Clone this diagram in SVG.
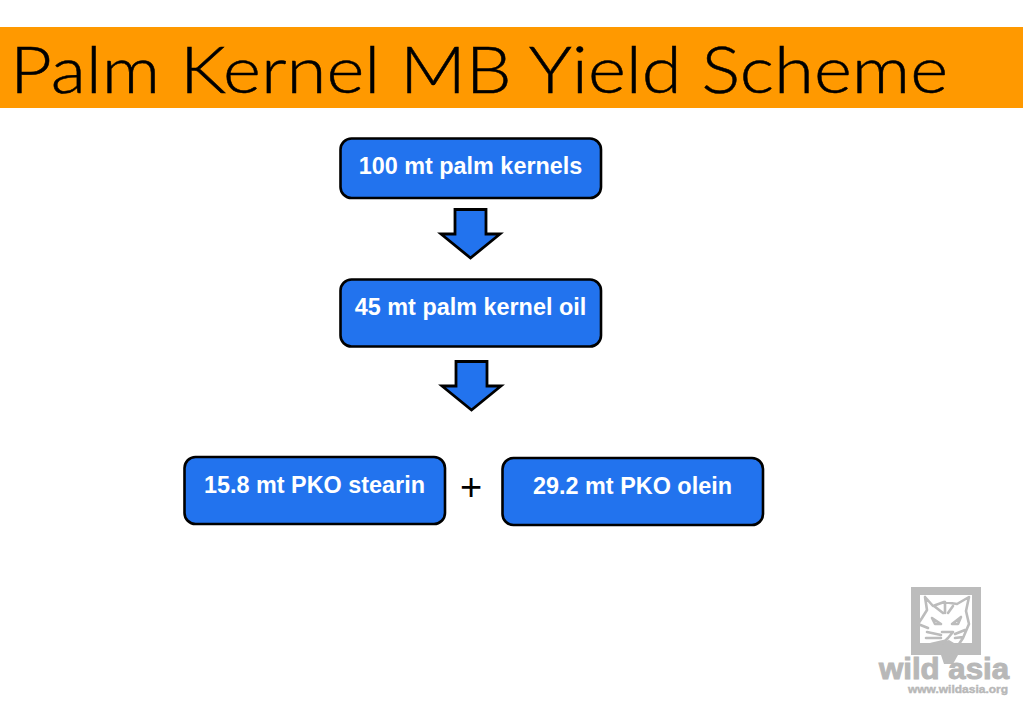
<svg xmlns="http://www.w3.org/2000/svg" width="1023" height="708" viewBox="0 0 1023 708">
<style>
.box{fill:#2273ee;stroke:#000;stroke-width:2.6}
.arr{fill:#2273ee;stroke:#000;stroke-width:2.8;stroke-linejoin:miter}
.lbl{font-family:"Liberation Sans",Arial,sans-serif;font-weight:700;font-size:23.400px;fill:#fff;text-anchor:middle}
.cat{fill:none;stroke:#bcbcbc;stroke-width:2.600;stroke-linecap:round;stroke-linejoin:round}
.logo{font-family:"Liberation Sans",Arial,sans-serif;font-weight:700;fill:#b8b8b8}
</style>
<rect width="1023" height="708" fill="#fff"/>
<g id="title">
<rect x="0" y="27" width="1023" height="81" fill="#ff9900"/>
<text x="10" y="93" font-family="Lato,'Noto Sans',sans-serif" font-weight="300" font-size="65" fill="#000" stroke="#000" stroke-width=".5" textLength="938" lengthAdjust="spacingAndGlyphs">Palm Kernel MB Yield Scheme</text>
</g>
<g id="connectors">
<path class="arr" d="M455 209.500H486V234H500L470.500 258L441 234H455Z"/>
<path class="arr" d="M456 361.500H487V386H501L471.500 410L442 386H456Z"/>
</g>
<g id="node-kernels">
<rect class="box" x="340.500" y="138.500" width="260.500" height="59.500" rx="11"/>
<text class="lbl" x="470.500" y="174">100 mt palm kernels</text>
</g>
<g id="node-oil">
<rect class="box" x="340.500" y="279.500" width="260.500" height="67" rx="11"/>
<text class="lbl" x="470.500" y="315">45 mt palm kernel oil</text>
</g>
<g id="node-stearin">
<rect class="box" x="184.500" y="457" width="260.500" height="67" rx="11"/>
<text class="lbl" x="314.500" y="493">15.8 mt PKO stearin</text>
</g>
<g id="plus">
<text x="471" y="500" font-family="'Liberation Sans',Arial,sans-serif" font-size="38" fill="#000" text-anchor="middle">+</text>
</g>
<g id="node-olein">
<rect class="box" x="502.500" y="458" width="260.500" height="67" rx="11"/>
<text class="lbl" x="632.500" y="494">29.2 mt PKO olein</text>
</g>
<g id="logo">
<path fill="#bcbcbc" fill-rule="evenodd" d="M911 587H981V655H958L953 664H944L941 655H911ZM920 595V643H937L949 640L954 643H972V595Z"/>
<path class="cat" d="M925 597L933 606L944 602L957 604L969 597L966 611L969 624L963 638L955 650L948 662M925 597L927 610L922 618L918 624L928 628M934 606L943 613M953 606L948 613M945 602V613M932 618L941 624L935 624ZM952 624L961 617L958 624ZM942 632H953L948 638L943 643M927 632L941 635M926 638L941 638M931 644L944 641M955 634L965 630M955 638L963 637"/>
<text class="logo" x="879" y="679" font-size="30" stroke="#b8b8b8" stroke-width="1" textLength="130" lengthAdjust="spacingAndGlyphs">wild asia</text>
<text class="logo" x="908" y="693" font-size="10" stroke="#b8b8b8" stroke-width=".4" textLength="100" lengthAdjust="spacingAndGlyphs">www.wildasia.org</text>
</g>
</svg>
